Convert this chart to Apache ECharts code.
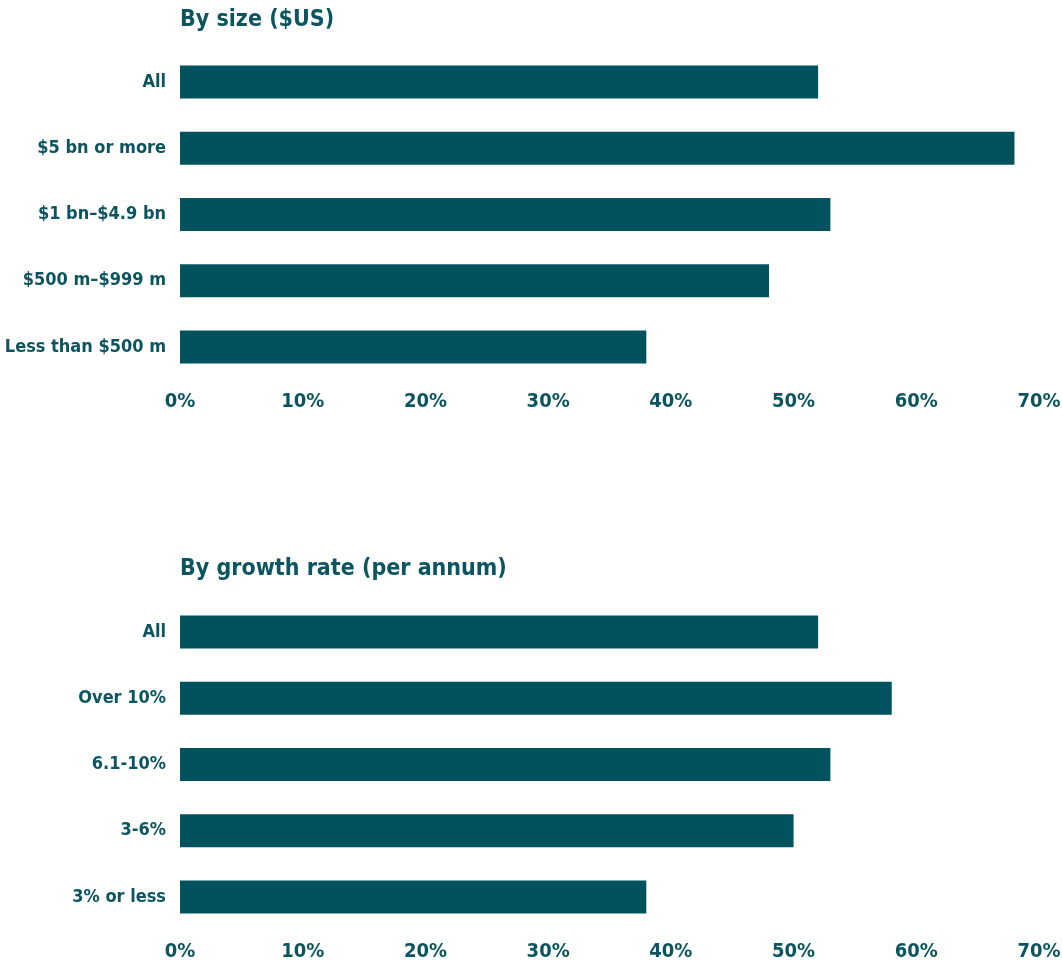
<!DOCTYPE html>
<html><head><meta charset="utf-8">
<style>html,body{margin:0;padding:0;background:#fff;}#c{width:1062px;height:967px;}</style>
<script src="https://cdn.jsdelivr.net/npm/echarts@6/dist/echarts.min.js"></script>
</head><body><div id="c"></div>
<script>
const sizeCategories = ['All', '$5 bn or more', '$1 bn–$4.9 bn', '$500 m–$999 m', 'Less than $500 m'];
const sizeValues = [52, 68, 53, 48, 38];
const growthCategories = ['All', 'Over 10%', '6.1-10%', '3-6%', '3% or less'];
const growthValues = [52, 58, 53, 50, 38];
const titles = ['By size ($US)', 'By growth rate (per annum)'];
const xTicks = [0, 10, 20, 30, 40, 50, 60, 70];

const FONT = '"DejaVu Sans Condensed", "Liberation Sans Narrow", sans-serif';
const TXT = '#0b5560';
const BAR = '#00525e';

const chart = echarts.init(document.getElementById('c'));
function xAxis(i){
  return {type:'value', gridIndex:i, min:xTicks[0], max:xTicks[xTicks.length-1], interval:10,
    axisLine:{show:false}, axisTick:{show:false}, splitLine:{show:false},
    axisLabel:{formatter:'{value}%', color:TXT, fontFamily:FONT, fontWeight:'bold', fontSize:20, margin:12}};
}
function yAxis(i, cats){
  return {type:'category', gridIndex:i, data:cats, inverse:true,
    axisLine:{show:false}, axisTick:{show:false}, splitLine:{show:false},
    axisLabel:{color:TXT, fontFamily:FONT, fontWeight:'bold', fontSize:18, margin:14}};
}
chart.setOption({
  animation:false,
  title:[
    {text:titles[0], left:175, top:4, textStyle:{color:TXT, fontFamily:FONT, fontWeight:'bold', fontSize:23}},
    {text:titles[1], left:175, top:553, textStyle:{color:TXT, fontFamily:FONT, fontWeight:'bold', fontSize:23}}
  ],
  grid:[
    {left:180, right:23, top:49, height:331, containLabel:false, outerBoundsMode:'none'},
    {left:180, right:23, top:599, height:331, containLabel:false, outerBoundsMode:'none'}
  ],
  xAxis:[xAxis(0), xAxis(1)],
  yAxis:[yAxis(0, sizeCategories), yAxis(1, growthCategories)],
  series:[
    {type:'bar', xAxisIndex:0, yAxisIndex:0, data:sizeValues, barWidth:33, itemStyle:{color:BAR}},
    {type:'bar', xAxisIndex:1, yAxisIndex:1, data:growthValues, barWidth:33, itemStyle:{color:BAR}}
  ]
});
</script></body></html>
